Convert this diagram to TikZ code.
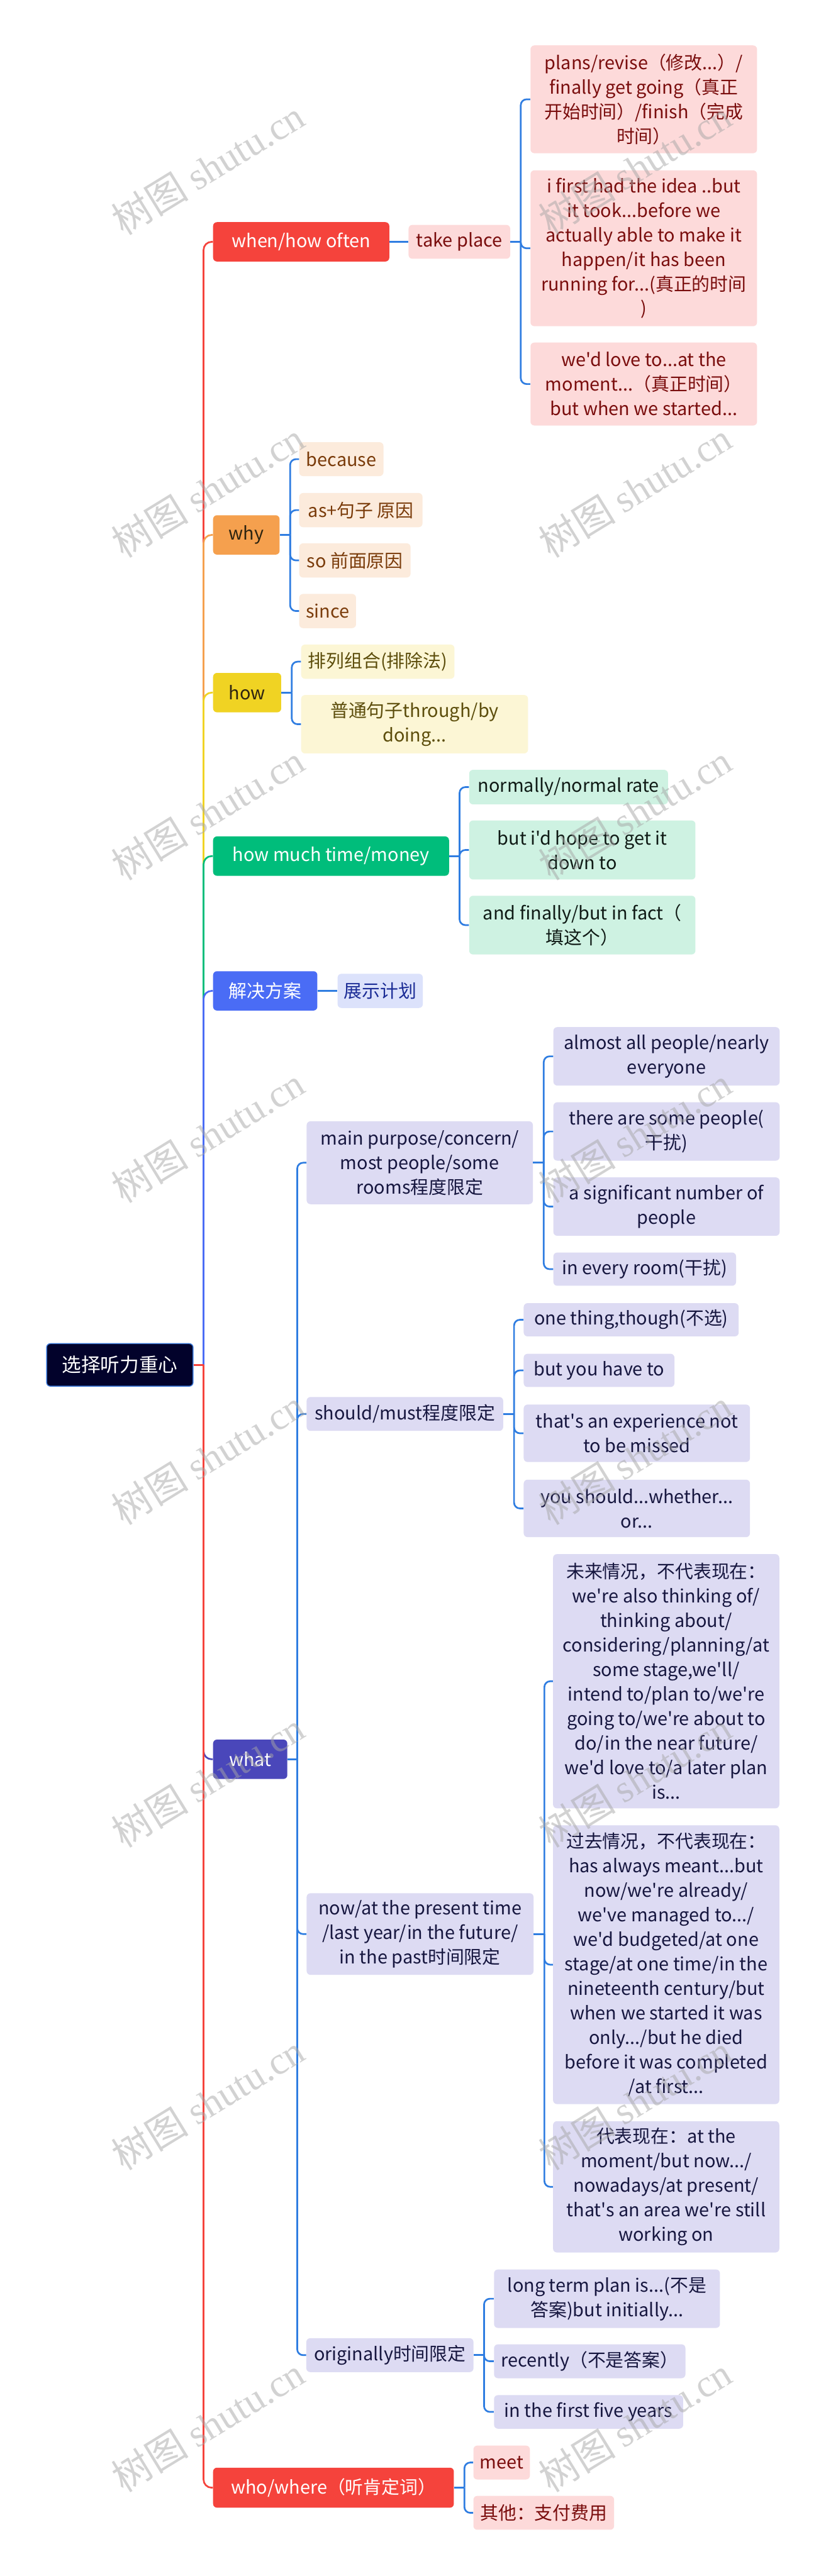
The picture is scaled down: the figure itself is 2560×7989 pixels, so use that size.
\documentclass[tikz,border=0pt]{standalone}
\usepackage{fontspec}
\setmainfont{Noto Sans CJK SC}[Ligatures=TeXOff]
\newfontfamily\wmfont{Liberation Serif}
\newcommand\mapfont{\fontsize{16}{21.6}\selectfont}
\newcommand\rootfont{\fontsize{17}{22}\selectfont}
\newcommand\wmsize{\fontsize{34}{34}\selectfont}

\definecolor{rootfill}{HTML}{02022B}
\definecolor{rootline}{HTML}{3B78D8}
\definecolor{redmain}{HTML}{F5433C}
\definecolor{orangemain}{HTML}{F5A04E}
\definecolor{yellowmain}{HTML}{F0D323}
\definecolor{greenmain}{HTML}{00BD7B}
\definecolor{bluemain}{HTML}{4A6CF5}
\definecolor{purplemain}{HTML}{4A47BA}
\definecolor{redsoft}{HTML}{FDDADA}
\definecolor{redtext}{HTML}{7A0D0D}
\definecolor{orangesoft}{HTML}{FCEBDC}
\definecolor{orangetext}{HTML}{7A3B0A}
\definecolor{darktext}{HTML}{2E2410}
\definecolor{yellowsoft}{HTML}{FCF6D5}
\definecolor{yellowtext}{HTML}{5C4D0B}
\definecolor{greensoft}{HTML}{CEF2E2}
\definecolor{greentext}{HTML}{0F1A15}
\definecolor{bluesoft}{HTML}{DCE2FB}
\definecolor{bluetext}{HTML}{1B2C96}
\definecolor{purplesoft}{HTML}{DDDBF3}
\definecolor{purpletext}{HTML}{16163F}
\definecolor{linkblue}{HTML}{2F7DE1}
\definecolor{wmgray}{HTML}{A6A6A6}

\tikzset{
  topic/.style={rounded corners=0.12cm,inner xsep=0.08cm,inner ysep=0.04cm,align=center,anchor=west,font=\mapfont},
  dims/.style 2 args={minimum width=#1cm,minimum height=#2cm},
  rootnode/.style={topic,fill=rootfill,draw=rootline,line width=0.8pt,text=white,font=\rootfont},
  mainnode/.style={topic,fill=#1,text=white},
  leafnode/.style 2 args={topic,fill=#1,text=#2},
  mainedge/.style={line width=1.5pt,rounded corners=0.25cm},
  subedge/.style={line width=1.5pt,draw=linkblue,rounded corners=0.18cm},
  watermark/.style={rotate=31.5,text=wmgray,text opacity=0.5,font=\wmsize,inner sep=0pt}
}

\begin{document}
\begin{tikzpicture}[x=0.01cm,y=-0.01cm]
\fill[white] (0,0) rectangle (2560,7989);
\useasboundingbox (0,0) rectangle (2560,7989);

% root and main topics
\node[rootnode,dims={4.54}{1.32}] (n_root) at (143,4233) {选择听力重心};
\node[mainnode=redmain,dims={5.46}{1.22}] (n_when) at (660,750) {when/how often};
\node[mainnode=orangemain,text=darktext,dims={2.06}{1.22}] (n_why) at (660,1659) {why};
\node[mainnode=yellowmain,text=darktext,dims={2.11}{1.22}] (n_how) at (660,2148) {how};
\node[mainnode=greenmain,dims={7.31}{1.22}] (n_much) at (660,2655) {how much time/money};
\node[mainnode=bluemain,dims={3.23}{1.22}] (n_plan) at (660,3073) {解决方案};
\node[mainnode=purplemain,dims={2.30}{1.22}] (n_what) at (660,5456) {what};
\node[mainnode=redmain,dims={7.46}{1.24}] (n_who) at (660,7715) {who/where（听肯定词）};

% when
\node[leafnode={redsoft}{redtext},dims={3.15}{1.05}] (n_tp) at (1266,750) {take place};
\node[leafnode={redsoft}{redtext},dims={7.02}{3.34}] (n_revise) at (1644,308) {plans/revise（修改...）/\\finally get going（真正\\开始时间）/finish（完成\\时间）};
\node[leafnode={redsoft}{redtext},dims={7.02}{4.83}] (n_idea) at (1644,770) {i first had the idea ..but\\it took...before we\\actually able to make it\\happen/it has been\\running for...(真正的时间\\)};
\node[leafnode={redsoft}{redtext},dims={7.02}{2.57}] (n_love) at (1644,1191) {we'd love to...at the\\moment...（真正时间）\\but when we started...};

% why
\node[leafnode={orangesoft}{orangetext},dims={2.61}{1.05}] (n_because) at (927,1424) {because};
\node[leafnode={orangesoft}{orangetext},dims={3.82}{1.06}] (n_as) at (927,1582) {as+句子 原因};
\node[leafnode={orangesoft}{orangetext},dims={3.45}{1.06}] (n_so) at (927,1738) {so 前面原因};
\node[leafnode={orangesoft}{orangetext},dims={1.76}{1.06}] (n_since) at (927,1895) {since};

% how
\node[leafnode={yellowsoft}{yellowtext},dims={4.75}{1.06}] (n_pailie) at (933,2052) {排列组合(排除法)};
\node[leafnode={yellowsoft}{yellowtext},dims={7.03}{1.81}] (n_putong) at (933,2246) {普通句子through/by\\doing...};

% how much time/money
\node[leafnode={greensoft}{greentext},dims={6.16}{1.07}] (n_normal) at (1454,2441) {normally/normal rate};
\node[leafnode={greensoft}{greentext},dims={7.01}{1.83}] (n_hope) at (1454,2636) {but i'd hope to get it\\down to};
\node[leafnode={greensoft}{greentext},dims={7.01}{1.82}] (n_fact) at (1454,2869) {and finally/but in fact（\\填这个）};

% plan
\node[leafnode={bluesoft}{bluetext},dims={2.64}{1.06}] (n_show) at (1046,3073) {展示计划};

% what
\node[leafnode={purplesoft}{purpletext},dims={7.01}{2.57}] (n_purpose) at (950,3606) {main purpose/concern/\\most people/some\\rooms程度限定};
\node[leafnode={purplesoft}{purpletext},dims={6.09}{1.05}] (n_should) at (950,4385) {should/must程度限定};
\node[leafnode={purplesoft}{purpletext},dims={7.03}{2.53}] (n_now) at (950,5998) {now/at the present time\\/last year/in the future/\\in the past时间限定};
\node[leafnode={purplesoft}{purpletext},dims={5.18}{1.05}] (n_orig) at (949,7304) {originally时间限定};

\node[leafnode={purplesoft}{purpletext},dims={7.01}{1.81}] (n_almost) at (1715,3276) {almost all people/nearly\\everyone};
\node[leafnode={purplesoft}{purpletext},dims={7.01}{1.81}] (n_some) at (1715,3509) {there are some people(\\干扰)};
\node[leafnode={purplesoft}{purpletext},dims={7.01}{1.81}] (n_signif) at (1715,3742) {a significant number of\\people};
\node[leafnode={purplesoft}{purpletext},dims={5.66}{1.03}] (n_room) at (1715,3936) {in every room(干扰)};

\node[leafnode={purplesoft}{purpletext},dims={6.66}{1.03}] (n_though) at (1623,4093) {one thing,though(不选)};
\node[leafnode={purplesoft}{purpletext},dims={4.67}{1.03}] (n_haveto) at (1623,4250) {but you have to};
\node[leafnode={purplesoft}{purpletext},dims={7.01}{1.78}] (n_missed) at (1623,4445) {that's an experience not\\to be missed};
\node[leafnode={purplesoft}{purpletext},dims={7.01}{1.78}] (n_whether) at (1623,4678) {you should...whether...\\or...};

\node[leafnode={purplesoft}{purpletext},dims={7.01}{7.88}] (n_future) at (1714,5214) {未来情况，不代表现在：\\we're also thinking of/\\thinking about/\\considering/planning/at\\some stage,we'll/\\intend to/plan to/we're\\going to/we're about to\\do/in the near future/\\we'd love to/a later plan\\is...};
\node[leafnode={purplesoft}{purpletext},dims={7.01}{8.64}] (n_past) at (1714,6093) {过去情况，不代表现在：\\has always meant...but\\now/we're already/\\we've managed to.../\\we'd budgeted/at one\\stage/at one time/in the\\nineteenth century/but\\when we started it was\\only.../but he died\\before it was completed\\/at first...};
\node[leafnode={purplesoft}{purpletext},dims={7.01}{4.07}] (n_present) at (1714,6782) {代表现在：at the\\moment/but now.../\\nowadays/at present/\\that's an area we're still\\working on};

\node[leafnode={purplesoft}{purpletext},dims={7.00}{1.81}] (n_longterm) at (1531,7129) {long term plan is...(不是\\答案)but initially...};
\node[leafnode={purplesoft}{purpletext},dims={5.93}{1.05}] (n_recent) at (1531,7323) {recently（不是答案）};
\node[leafnode={purplesoft}{purpletext},dims={5.86}{1.04}] (n_five) at (1531,7480) {in the first five years};

% who/where
\node[leafnode={redsoft}{redtext},dims={1.75}{1.05}] (n_meet) at (1467,7637) {meet};
\node[leafnode={redsoft}{redtext},dims={4.36}{1.05}] (n_pay) at (1467,7793) {其他：支付费用};

% main edges
\draw[mainedge,draw=redmain] (n_root.east) ++(31,0) |- (n_when.west);
\draw[mainedge,draw=orangemain] (n_root.east) ++(31,0) |- (n_why.west);
\draw[mainedge,draw=yellowmain] (n_root.east) ++(31,0) |- (n_how.west);
\draw[mainedge,draw=greenmain] (n_root.east) ++(31,0) |- (n_much.west);
\draw[mainedge,draw=bluemain] (n_root.east) ++(31,0) |- (n_plan.west);
\draw[mainedge,draw=purplemain] (n_root.east) ++(31,0) |- (n_what.west);
\draw[mainedge,draw=redmain] (n_root.east) ++(31,0) |- (n_who.west);
\draw[mainedge,draw=redmain] (n_root.east) -- ++(31,0);

% sub edges
\draw[subedge] (n_when.east) -- (n_tp.west);
\draw[subedge] (n_tp.east) -- ++(32,0);
\draw[subedge] (n_tp.east) ++(32,0) |- (n_revise.west);
\draw[subedge] (n_tp.east) ++(32,0) |- (n_idea.west);
\draw[subedge] (n_tp.east) ++(32,0) |- (n_love.west);

\draw[subedge] (n_why.east) -- ++(32,0);
\draw[subedge] (n_why.east) ++(32,0) |- (n_because.west);
\draw[subedge] (n_why.east) ++(32,0) |- (n_as.west);
\draw[subedge] (n_why.east) ++(32,0) |- (n_so.west);
\draw[subedge] (n_why.east) ++(32,0) |- (n_since.west);

\draw[subedge] (n_how.east) -- ++(32,0);
\draw[subedge] (n_how.east) ++(32,0) |- (n_pailie.west);
\draw[subedge] (n_how.east) ++(32,0) |- (n_putong.west);

\draw[subedge] (n_much.east) -- ++(32,0);
\draw[subedge] (n_much.east) ++(32,0) |- (n_normal.west);
\draw[subedge] (n_much.east) ++(32,0) |- (n_hope.west);
\draw[subedge] (n_much.east) ++(32,0) |- (n_fact.west);

\draw[subedge] (n_plan.east) -- (n_show.west);

\draw[subedge] (n_what.east) -- ++(30,0);
\draw[subedge] (n_what.east) ++(30,0) |- (n_purpose.west);
\draw[subedge] (n_what.east) ++(30,0) |- (n_should.west);
\draw[subedge] (n_what.east) ++(30,0) |- (n_now.west);
\draw[subedge] (n_what.east) ++(30,0) |- (n_orig.west);

\draw[subedge] (n_purpose.east) -- ++(33,0);
\draw[subedge] (n_purpose.east) ++(33,0) |- (n_almost.west);
\draw[subedge] (n_purpose.east) ++(33,0) |- (n_some.west);
\draw[subedge] (n_purpose.east) ++(33,0) |- (n_signif.west);
\draw[subedge] (n_purpose.east) ++(33,0) |- (n_room.west);

\draw[subedge] (n_should.east) -- ++(33,0);
\draw[subedge] (n_should.east) ++(33,0) |- (n_though.west);
\draw[subedge] (n_should.east) ++(33,0) |- (n_haveto.west);
\draw[subedge] (n_should.east) ++(33,0) |- (n_missed.west);
\draw[subedge] (n_should.east) ++(33,0) |- (n_whether.west);

\draw[subedge] (n_now.east) -- ++(33,0);
\draw[subedge] (n_now.east) ++(33,0) |- (n_future.west);
\draw[subedge] (n_now.east) ++(33,0) |- (n_past.west);
\draw[subedge] (n_now.east) ++(33,0) |- (n_present.west);

\draw[subedge] (n_orig.east) -- ++(32,0);
\draw[subedge] (n_orig.east) ++(32,0) |- (n_longterm.west);
\draw[subedge] (n_orig.east) ++(32,0) |- (n_recent.west);
\draw[subedge] (n_orig.east) ++(32,0) |- (n_five.west);

\draw[subedge] (n_who.east) -- ++(32,0);
\draw[subedge] (n_who.east) ++(32,0) |- (n_meet.west);
\draw[subedge] (n_who.east) ++(32,0) |- (n_pay.west);

% watermarks
\node[watermark] (w_l0) at (645,520) {树图 {\wmfont shutu.cn}};
\node[watermark] (w_r0) at (1969,520) {树图 {\wmfont shutu.cn}};
\node[watermark] (w_l1) at (645,1520) {树图 {\wmfont shutu.cn}};
\node[watermark] (w_r1) at (1969,1520) {树图 {\wmfont shutu.cn}};
\node[watermark] (w_l2) at (645,2520) {树图 {\wmfont shutu.cn}};
\node[watermark] (w_r2) at (1969,2520) {树图 {\wmfont shutu.cn}};
\node[watermark] (w_l3) at (645,3520) {树图 {\wmfont shutu.cn}};
\node[watermark] (w_r3) at (1969,3520) {树图 {\wmfont shutu.cn}};
\node[watermark] (w_l4) at (645,4520) {树图 {\wmfont shutu.cn}};
\node[watermark] (w_r4) at (1969,4520) {树图 {\wmfont shutu.cn}};
\node[watermark] (w_l5) at (645,5520) {树图 {\wmfont shutu.cn}};
\node[watermark] (w_r5) at (1969,5520) {树图 {\wmfont shutu.cn}};
\node[watermark] (w_l6) at (645,6520) {树图 {\wmfont shutu.cn}};
\node[watermark] (w_r6) at (1969,6520) {树图 {\wmfont shutu.cn}};
\node[watermark] (w_l7) at (645,7520) {树图 {\wmfont shutu.cn}};
\node[watermark] (w_r7) at (1969,7520) {树图 {\wmfont shutu.cn}};
\end{tikzpicture}
\end{document}
